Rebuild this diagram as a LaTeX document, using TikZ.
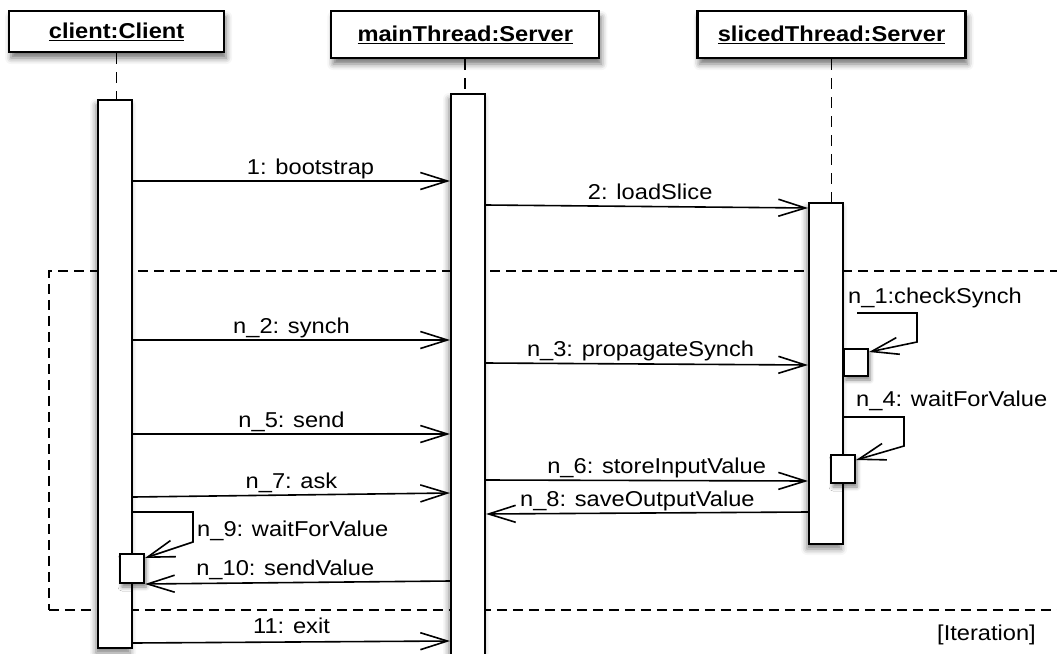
\documentclass[tikz,border=0pt]{standalone}
\usepackage{fontspec}
\setmainfont[FakeStretch=1.1]{Liberation Sans}
\usetikzlibrary{arrows.meta,positioning,shadows.blur}

\newcommand{\msgfont}{\fontsize{21.5pt}{25pt}\selectfont}

\begin{document}
\begin{tikzpicture}[
    x=1pt, y=-1pt,
    obj/.style={rectangle, draw, line width=2.2pt, fill=white, minimum width=268pt, minimum height=47pt, font=\msgfont\bfseries, blur shadow={shadow xshift=2pt, shadow yshift=-6pt, shadow blur radius=6pt, shadow opacity=55}},
    bar/.style={rectangle, draw, line width=2pt, fill=white, minimum width=34pt, inner sep=0pt, blur shadow={shadow xshift=-2pt, shadow yshift=-5pt, shadow blur radius=6pt, shadow opacity=50}},
    act/.style={rectangle, draw, line width=2pt, fill=white, minimum width=24pt, minimum height=28pt, inner sep=0pt, blur shadow={shadow xshift=2pt, shadow yshift=-4pt, shadow blur radius=4pt, shadow opacity=50}},
    life/.style={dash pattern=on 11pt off 8pt, line width=1.7pt},
    msg/.style={line width=1.6pt, -{Straight Barb[length=27pt, width=17pt]}},
    lbl/.style={anchor=base, yshift=7pt, inner sep=0pt, font=\msgfont},
    note/.style={inner sep=0pt, font=\msgfont},
    loop/.style={draw, dash pattern=on 10pt off 6pt, line width=1.7pt, inner sep=0pt}
]
\useasboundingbox (0,0) rectangle (1057,653);
\clip (0,0) rectangle (1057,653);

% Objects
\node[obj, minimum width=215pt, minimum height=41pt, anchor=north west] (client) at (8,10) {\underline{client:Client}};
\node[obj, right=105pt of client.north east, anchor=north west] (mainthr) {\underline{mainThread:Server}};
\node[obj, right=96pt of mainthr.north east, anchor=north west] (sliced) {\underline{slicedThread:Server}};

% Iteration frame
\node[loop, anchor=north west, minimum width=1040pt, minimum height=339pt] (iter) at (48,270) {};
\node[note, anchor=base east] (iterlbl) at (1036,640) {[Iteration]};

% Lifelines
\draw[life] (client.south) -- (client.south |- 0,99);
\draw[life] (mainthr.south) -- (mainthr.south |- 0,93);
\draw[life] (sliced.south) -- (sliced.south |- 0,202);

% Activation bars
\node[bar, minimum height=548pt, anchor=north] (clientbar) at (115,99) {};
\node[bar, minimum height=600pt, anchor=north] (mainbar) at (468,93) {};
\node[bar, minimum height=341pt, anchor=north] (slicedbar) at (826,202) {};

% Nested activations
\node[act, minimum height=27pt, anchor=north west] (chk) at (843,348) {};
\node[act, anchor=north west] (wait2) at (830,454) {};
\node[act, minimum height=29pt, anchor=north west] (wait1) at (119,553) {};

% Messages
\draw[msg] (clientbar.east |- 0,181) -- node[lbl, pos=0.56] {1: bootstrap} (mainbar.west |- 0,181);
\draw[msg] (mainbar.east |- 0,205) -- node[lbl, pos=0.51] {2: loadSlice} (slicedbar.west |- 0,208);
\draw[msg] (clientbar.east |- 0,340) -- node[lbl] {n\_2: synch} (mainbar.west |- 0,340);
\draw[msg] (mainbar.east |- 0,363) -- node[lbl, pos=0.48] {n\_3: propagateSynch} (slicedbar.west |- 0,365);
\draw[msg] (clientbar.east |- 0,434) -- node[lbl] {n\_5: send} (mainbar.west |- 0,434);
\draw[msg] (mainbar.east |- 0,480) -- node[lbl, pos=0.53] {n\_6: storeInputValue} (slicedbar.west |- 0,481);
\draw[msg] (clientbar.east |- 0,497) -- node[lbl] {n\_7: ask} (mainbar.west |- 0,493);
\draw[msg] (slicedbar.west |- 0,512) -- node[lbl, pos=0.53] {n\_8: saveOutputValue} (mainbar.east |- 0,514);
\draw[msg] (mainbar.west |- 0,581) -- node[lbl, pos=0.54] {n\_10: sendValue} (wait1.south east);
\draw[msg] (clientbar.east |- 0,643) -- node[lbl, yshift=2pt] {11: exit} (mainbar.west |- 0,641);

% Self calls
\coordinate (chkfrom) at (857,313);
\draw[msg] (chkfrom) -- (917,313) -- (917,342) -- ([yshift=-4pt]chk.north east);
\node[note, anchor=base west] (chklbl) at (848,303) {n\_1:checkSynch};
\draw[msg] (slicedbar.east |- 0,417) -- (904,417) -- (904,446) -- ([yshift=-6pt]wait2.north east);
\node[note, anchor=base west] (wait2lbl) at (856,406) {n\_4: waitForValue};
\draw[msg] (clientbar.east |- 0,512) -- (193,512) -- (193,542) -- ([yshift=-5pt]wait1.north east);
\node[note, anchor=base west] (wait1lbl) at (197,536) {n\_9: waitForValue};

\end{tikzpicture}
\end{document}
